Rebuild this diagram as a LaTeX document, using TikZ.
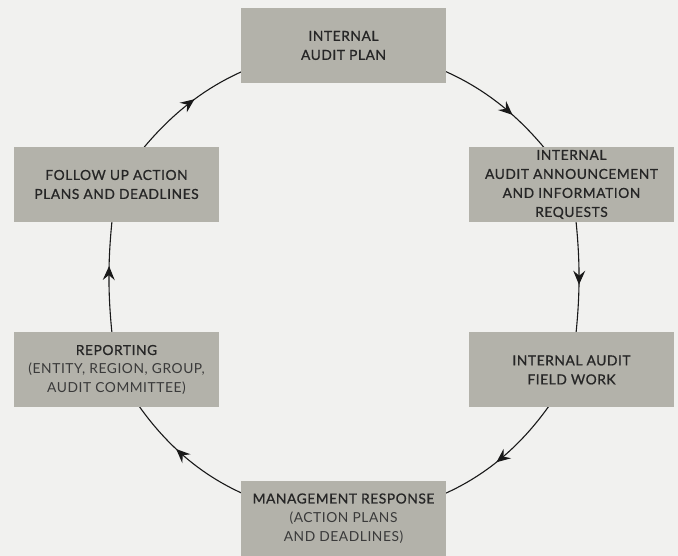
\documentclass[tikz,border=0pt]{standalone}
\usepackage{fontspec}
\setmainfont{Lato}[LetterSpace=4]
\newfontfamily\titlefont{Lato}[LetterSpace=4,FakeBold=0.8]
\usetikzlibrary{arrows.meta,decorations.markings,backgrounds}
\definecolor{boxgray}{RGB}{179,178,170}
\definecolor{paper}{RGB}{241,241,239}
\definecolor{ink}{RGB}{38,38,38}
\definecolor{softink}{RGB}{58,58,58}
\newcommand{\paren}[1]{{\normalfont\color{softink}#1}}

\tikzset{
	stage/.style={fill=boxgray, text=ink, minimum width=205pt, minimum height=75pt,
		align=center, inner sep=0pt, font=\fontsize{13.8}{19}\titlefont},
	flow/.style={draw=black!90, line width=1.1pt, postaction=decorate,
		decoration={markings, mark=at position #1 with {\arrow{Stealth[length=14pt,width=12pt,inset=5pt]}}}},
}

\begin{document}
\begin{tikzpicture}[x=1pt,y=1pt]
	% audit cycle, clockwise from the top
	\node[stage] (plan)     at (343.5,510.5) {INTERNAL\\AUDIT PLAN};
	\node[stage] (announce) at (571.5,371.5) {INTERNAL\\AUDIT ANNOUNCEMENT\\AND INFORMATION\\REQUESTS};
	\node[stage] (field)    at (571.5,186)   {INTERNAL AUDIT\\FIELD WORK};
	\node[stage] (response) at (343.5,37.5)  {MANAGEMENT RESPONSE\\\paren{(ACTION PLANS}\\\paren{AND DEADLINES)}};
	\node[stage] (report)   at (116.5,186)   {REPORTING\\\paren{(ENTITY, REGION, GROUP,}\\\paren{AUDIT COMMITTEE)}};
	\node[stage] (followup) at (116.5,371.5) {FOLLOW UP ACTION\\PLANS AND DEADLINES};

	\begin{scope}[on background layer]
		\fill[paper] (0,0) rectangle (678,556);
		\draw[flow=0.67] (plan.center) to[bend left=25] (announce.center);
		\draw[flow=0.54] (announce.center) to[bend left=8] (field.center);
		\draw[flow=0.42] (field.center) to[bend left=28] (response.center);
		\draw[flow=0.65] (response.center) to[bend left=28] (report.center);
		\draw[flow=0.56] (report.center) to[bend left=8] (followup.center);
		\draw[flow=0.42] (followup.center) to[bend left=25] (plan.center);
	\end{scope}
	\useasboundingbox (0,0) rectangle (678,556);
\end{tikzpicture}
\end{document}
